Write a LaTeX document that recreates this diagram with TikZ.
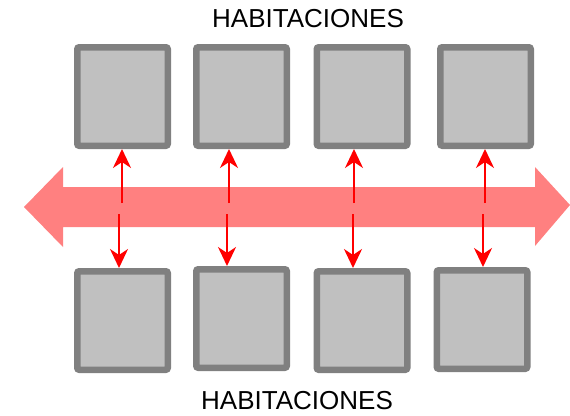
\documentclass[tikz,border=0pt]{standalone}
\usepackage{fontspec}
\setmainfont{Liberation Sans}
\usetikzlibrary{arrows.meta}
\definecolor{roomfill}{HTML}{C0C0C0}
\definecolor{roomedge}{HTML}{808080}
\definecolor{corridor}{HTML}{FF8080}
\definecolor{linkred}{HTML}{FF0000}
\begin{document}
\begin{tikzpicture}[x=1pt,y=-1pt,
  room/.style={draw=roomedge, fill=roomfill, line width=6.5pt, rounded corners=2pt,
    minimum width=90.5pt, minimum height=98.5pt, inner sep=0pt},
  label/.style={font=\fontsize{26}{28}\selectfont, inner sep=0pt},
  link/.style={draw=linkred, line width=2.2pt, -{Stealth[length=19pt,width=18pt,inset=6pt]}}]
\useasboundingbox (0,0) rectangle (570,415);
% corridor arrow
\fill[corridor] (24,207) -- (63,167) -- (63,187) -- (535,187) -- (535,167) -- (570,205)
  -- (535,246) -- (535,227) -- (63,227) -- (63,247) -- cycle;
% rooms
\node[room] (t1) at (122.5,96.5) {};
\node[room] (t2) at (241.5,96.5) {};
\node[room] (t3) at (362,96.5) {};
\node[room] (t4) at (485.5,96.5) {};
\node[room] (b1) at (122.5,320.5) {};
\node[room] (b2) at (241.5,318.5) {};
\node[room] (b3) at (362,320.5) {};
\node[room] (b4) at (482,319.5) {};
% labels
\node[label] (lt) at (308,19) {HABITACIONES};
\node[label] (lb) at (297,401) {HABITACIONES};
% link endpoints in corridor
\coordinate (u1) at (122,203);
\coordinate (u2) at (229,203);
\coordinate (u3) at (354,203);
\coordinate (u4) at (485,203);
\coordinate (d1) at (119,214);
\coordinate (d2) at (227,214);
\coordinate (d3) at (353,214);
\coordinate (d4) at (483,214);
\foreach \i in {1,2,3,4}{
  \draw[link] (u\i) -- (u\i |- t\i.south);
  \draw[link] (d\i) -- (d\i |- b\i.north);
}
\end{tikzpicture}
\end{document}
